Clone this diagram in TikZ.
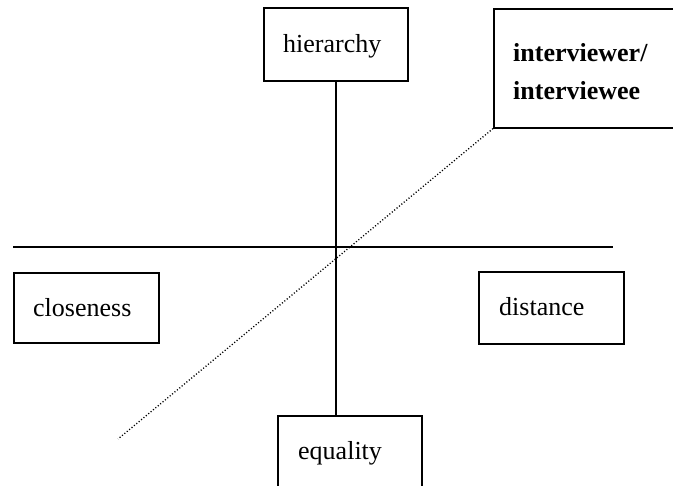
\documentclass[tikz,border=0pt]{standalone}
\usepackage{fontspec}
\setmainfont{Liberation Serif}
\begin{document}
\begin{tikzpicture}[x=1pt,y=-1pt,
  box/.style={draw,line width=1.6pt,rectangle,anchor=north west,inner sep=0pt},
  lbl/.style={anchor=base west,inner sep=0pt,font=\fontsize{26}{31}\selectfont},
  axis/.style={line width=1.6pt},
  dotline/.style={line width=1.3pt,dash pattern=on 1.1pt off 2pt}]
\useasboundingbox (0,0) rectangle (673,486);
\begin{scope}
\clip (0,0) rectangle (673,486);
% boxes
\node[box,minimum width=144pt,minimum height=73pt] (hier) at (263,7) {};
\node[box,minimum width=185pt,minimum height=119pt] (iv) at (493,8) {};
\node[box,minimum width=145pt,minimum height=70pt] (close) at (13,272) {};
\node[box,minimum width=145pt,minimum height=72pt] (dist) at (478,271) {};
\node[box,minimum width=144pt,minimum height=90pt] (eq) at (277,415) {};
% texts
\node[lbl] (thier) at (283,53) {hierarchy};
\node[lbl,font=\fontsize{26}{31}\selectfont\bfseries] (tiv1) at (513,62) {interviewer/};
\node[lbl,font=\fontsize{26}{31}\selectfont\bfseries] (tiv2) at (513,100) {interviewee};
\node[lbl] (tclose) at (33,317) {closeness};
\node[lbl] (tdist) at (499,316) {distance};
\node[lbl] (teq) at (298,460) {equality};
% axes
\coordinate (hl) at (13,247);
\coordinate (hr) at (613,247);
\coordinate (dend) at (118,439);
\draw[axis] (hl) -- (hr);
\draw[axis] (hier.south) -- (hier.south |- eq.north);
\draw[dotline] (iv.south west) -- (dend);
\end{scope}
\end{tikzpicture}
\end{document}
